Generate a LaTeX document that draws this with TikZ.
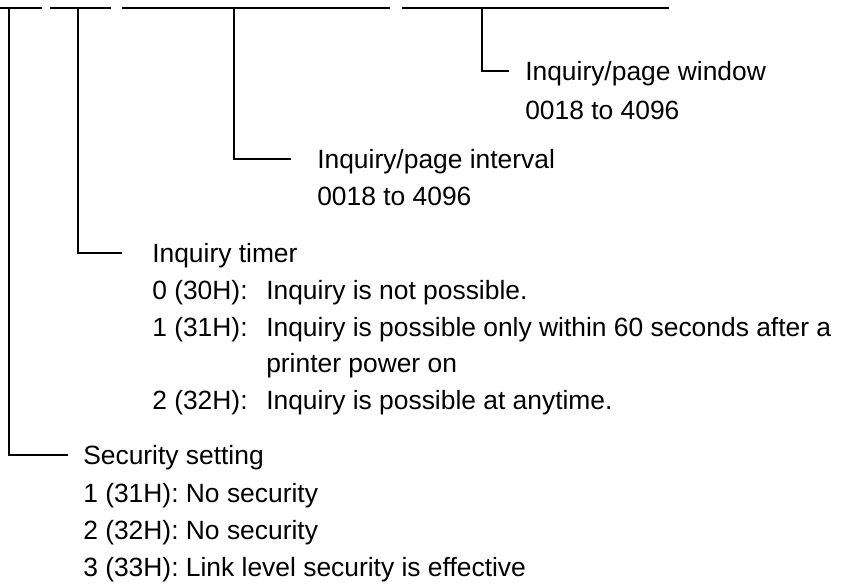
\documentclass[tikz,border=0pt]{standalone}
\usepackage{fontspec}
\setmainfont{Liberation Sans}
\usetikzlibrary{calc}
\tikzset{
  bar/.style={line width=1.4pt},
  link/.style={line width=0.9pt},
  txt/.style={anchor=west,inner sep=0pt,text height=14.2pt,text depth=0pt,
    font=\fontsize{19.8pt}{27.5pt}\selectfont},
}

\begin{document}
\begin{tikzpicture}[x=0.75pt,y=-0.75pt]
  \useasboundingbox (0,0) rectangle (847,583);

  % parameter fields
  \coordinate (f1a) at (0,8);   \coordinate (f1b) at (42,8);
  \coordinate (f2a) at (50,8);  \coordinate (f2b) at (111,8);
  \coordinate (f3a) at (122,8); \coordinate (f3b) at (390,8);
  \coordinate (f4a) at (402,8); \coordinate (f4b) at (669,8);
  \coordinate (t1) at (9,8);
  \coordinate (t2) at (78,8);
  \coordinate (t3) at (234,8);
  \coordinate (t4) at (482,8);
  \foreach \n in {1,...,4} \draw[bar] (f\n a) -- (f\n b);

  % inquiry/page window
  \node[txt] (win)  at (525,71)  {Inquiry/page window};
  \node[txt] (winr) at (525,110) {0018 to 4096};

  % inquiry/page interval
  \node[txt] (int)  at (317,159) {Inquiry/page interval};
  \node[txt] (intr) at (317,196) {0018 to 4096};

  % inquiry timer
  \node[txt] (tim)  at (152,253) {Inquiry timer};
  \node[txt] (tim0) at (152,290) {0 (30H):};
  \node[txt] (tim1) at (152,327) {1 (31H):};
  \node[txt] (tim2) at (152,400) {2 (32H):};
  \node[txt] (dsc0) at (266,290) {Inquiry is not possible.};
  \node[txt] (dsc1) at (266,327) {Inquiry is possible only within 60 seconds after a};
  \node[txt] (dsc1b) at (266,363) {printer power on};
  \node[txt] (dsc2) at (266,400) {Inquiry is possible at anytime.};

  % security setting
  \node[txt] (sec)  at (83,455) {Security setting};
  \node[txt] (sec1) at (83,493) {1 (31H): No security};
  \node[txt] (sec2) at (83,530) {2 (32H): No security};
  \node[txt] (sec3) at (83,567) {3 (33H): Link level security is effective};

  \draw[link] (t4) |- ($(win.west)-(16,0)$);
  \draw[link] (t3) |- ($(int.west)-(26,0)$);
  \draw[link] (t2) |- ($(tim.west)-(30,0)$);
  \draw[link] (t1) |- ($(sec.west)-(15,0)$);
\end{tikzpicture}
\end{document}
